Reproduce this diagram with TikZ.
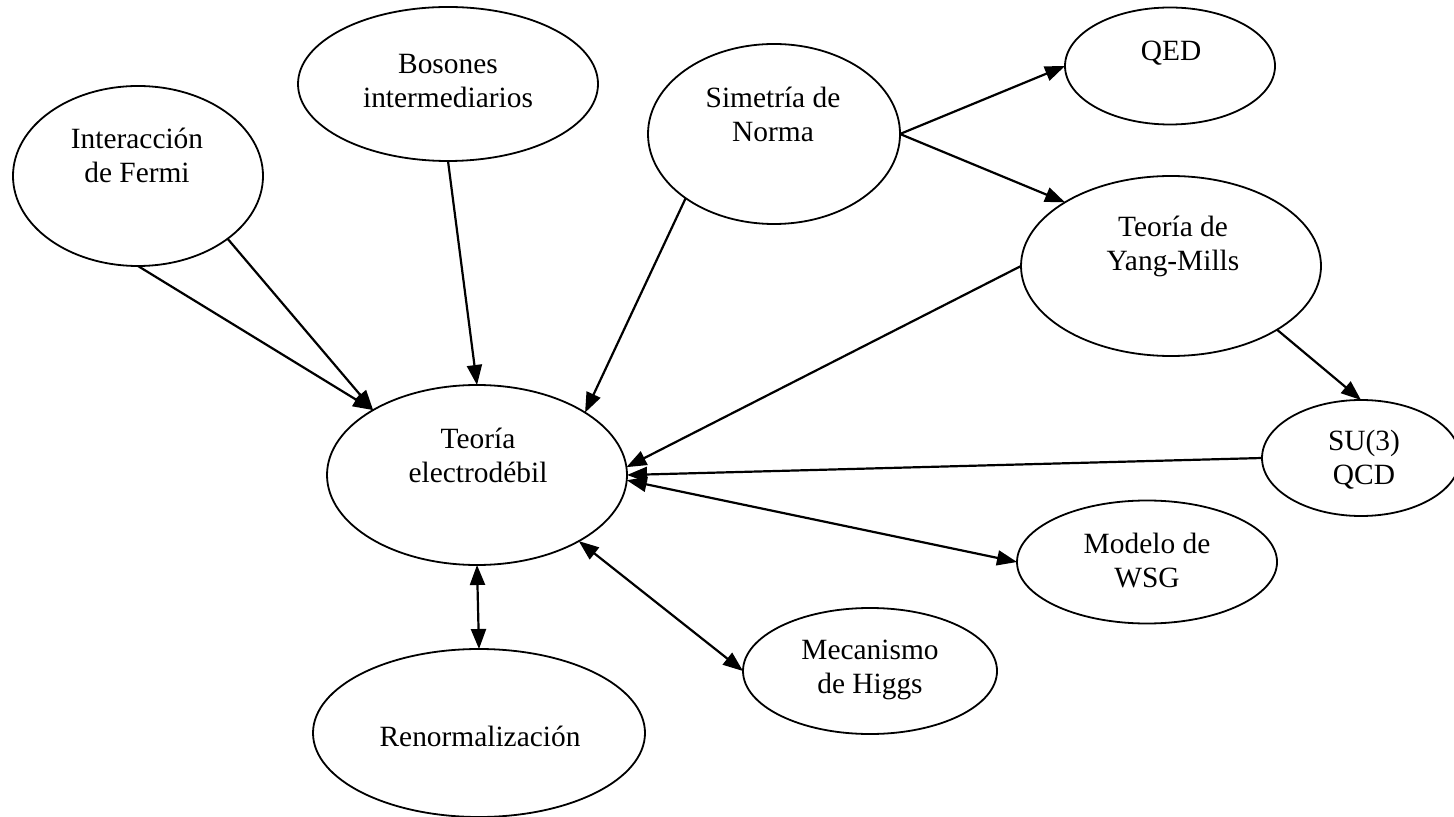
\documentclass[tikz,border=0pt]{standalone}
\usepackage{fontspec}
\setmainfont{Liberation Serif}
\usetikzlibrary{arrows.meta,shapes.geometric}
\begin{document}
\begin{tikzpicture}[x=0.5pt,y=-0.5pt,
  el/.style={draw,ellipse,line width=0.9pt,inner sep=0pt,outer sep=0pt},
  lbl/.style={align=center,font=\fontsize{14.7}{17}\selectfont,inner sep=0pt},
  con/.style={line width=1.1pt,-{Triangle[length=10pt,width=7.5pt]}},
  bicon/.style={line width=1.1pt,{Triangle[length=10pt,width=7.5pt]}-{Triangle[length=10pt,width=7.5pt]}}]
\useasboundingbox (0,0) rectangle (1454,817);
\fill[white] (0,0) rectangle (1454,817);

% ellipses
\node[el,minimum width=125pt,minimum height=90pt] (fermi) at (138,176) {};
\node[el,minimum width=150pt,minimum height=77pt] (bos) at (448,84) {};
\node[el,minimum width=126pt,minimum height=90pt] (sim) at (774,134) {};
\node[el,minimum width=105pt,minimum height=58.5pt] (qed) at (1170,66) {};
\node[el,minimum width=150pt,minimum height=90pt] (ym) at (1171,266) {};
\node[el,minimum width=99pt,minimum height=58pt] (su) at (1361,458) {};
\node[el,minimum width=150pt,minimum height=90pt] (ew) at (477,475) {};
\node[el,minimum width=130pt,minimum height=61.5pt] (wsg) at (1147,562) {};
\node[el,minimum width=127pt,minimum height=63pt] (hig) at (870,671) {};
\node[el,minimum width=166pt,minimum height=84pt] (ren) at (479,733) {};

% labels
\node[lbl] (tfermi) at (137,155) {Interacción\\de Fermi};
\node[lbl] (tbos) at (448,81) {Bosones\\intermediarios};
\node[lbl] (tsim) at (773,114) {Simetría de\\Norma};
\node[lbl] (tqed) at (1171,53) {QED};
\node[lbl] (tym) at (1173,246) {Teoría de\\Yang-Mills};
\node[lbl] (tsu) at (1364,460) {SU(3)\\QCD};
\node[lbl] (tew) at (478,455) {Teoría\\electrodébil};
\node[lbl] (twsg) at (1147,561) {Modelo de\\WSG};
\node[lbl] (thig) at (870,670) {Mecanismo\\de Higgs};
\node[lbl] (tren) at (480,736) {Renormalización};

% connectors
\draw[con] (fermi.south) -- (ew.148.7);
\draw[con] (fermi.-35.7) -- (ew.148.7);
\draw[con] (bos.south) -- (ew.north);
\draw[con] (sim.-144.3) -- (ew.30.7);
\draw[con] (sim.east) -- (qed.west);
\draw[con] (sim.east) -- (ym.149.3);
\draw[con] (ym.west) -- (ew.3);
\draw[con] (ym.-31.1) -- (su.north);
\draw[con] (su.west) -- (ew.east);
\draw[bicon] (ew.-2) -- (wsg.west);
\draw[bicon] (ew.-33) -- (hig.west);
\draw[bicon] (ew.south) -- (ren.north);
\end{tikzpicture}
\end{document}
